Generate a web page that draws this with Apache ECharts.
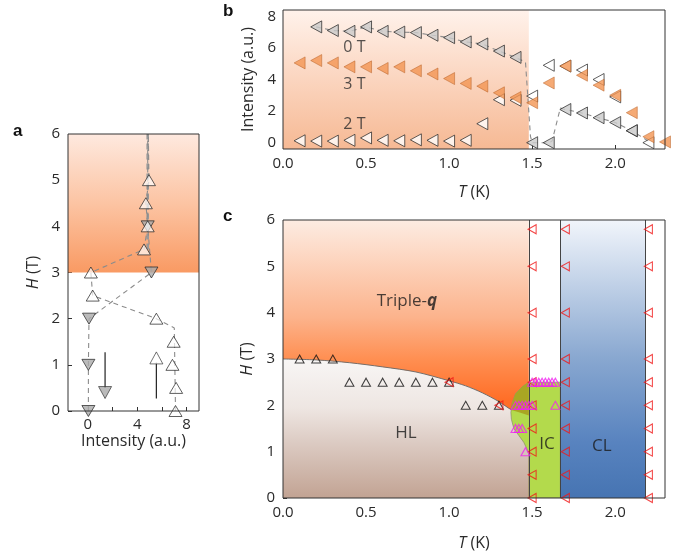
<!DOCTYPE html>
<html><head><meta charset="utf-8">
<script src="https://cdn.jsdelivr.net/npm/echarts@6/dist/echarts.min.js"></script>
<style>html,body{margin:0;padding:0;background:#fff}#c{width:682px;height:556px}</style>
</head><body><div id="c"></div>
<script>
// ================= DATA =================
// Panel a : H (T) vs Intensity (a.u.)
const aUpH = [0, 0.5, 1, 1.5, 2, 2.5, 3, 3.5, 4, 4.5, 5];
const aUpI = [7.1, 7.15, 6.85, 6.95, 5.55, 0.4, 0.25, 4.55, 4.85, 4.7, 4.95];
const aDownH = [0, 1, 2, 3, 4];
const aDownI = [0.05, 0.05, 0.1, 5.15, 4.85];
const aUpPathH = [0, 1.8, 2.0, 2.5, 3.0, 3.5, 4, 4.5, 5, 6];
const aUpPathI = [7.1, 7.0, 5.55, 0.4, 0.25, 4.55, 4.85, 4.7, 4.95, 4.9];
const aDownPathH = [0, 1, 2, 3, 4, 6];
const aDownPathI = [0.05, 0.05, 0.1, 5.15, 4.85, 4.85];
const aThickH = [3.5, 6];
const aThickI = [4.85, 4.85];
const aArrowDownH = [1.27, 0.5], aArrowDownI = [1.4, 1.4];
const aArrowUpH = [0.27, 1.05], aArrowUpI = [5.55, 5.55];
const aHeadDown = [1.4, 0.4], aHeadUp = [5.55, 1.15];
const aTicksX = [0, 4, 8], aMinorX = [0, 2, 4, 6, 8], aTicksY = [0, 1, 2, 3, 4, 5, 6];

// Panel b : Intensity vs T
const bT0 = [0.2, 0.3, 0.4, 0.5, 0.6, 0.7, 0.8, 0.9, 1.0, 1.1, 1.2, 1.3, 1.4, 1.5, 1.6, 1.7, 1.8, 1.9, 2.0, 2.1];
const bI0 = [7.33, 7.1, 7.05, 7.33, 7.05, 7.0, 6.97, 6.8, 6.65, 6.38, 6.25, 5.8, 5.4, 0, 0, 2.1, 1.88, 1.58, 1.28, 0.76];
const bT2 = [0.1, 0.2, 0.3, 0.4, 0.5, 0.6, 0.7, 0.8, 0.9, 1.0, 1.1, 1.2, 1.3, 1.4, 1.5, 1.6, 1.7, 1.8, 1.9, 2.0, 2.1, 2.2];
const bI2 = [0.12, 0.1, 0.1, 0.15, 0.3, 0.15, 0.12, 0.18, 0.15, 0.1, 0.15, 1.2, 2.72, 2.68, 2.95, 4.9, 4.85, 4.6, 4.0, 2.9, 0.75, 0];
const bT3 = [0.1, 0.2, 0.3, 0.4, 0.5, 0.6, 0.7, 0.8, 0.9, 1.0, 1.1, 1.2, 1.3, 1.4, 1.5, 1.6, 1.7, 1.8, 1.9, 2.0, 2.1, 2.2, 2.3];
const bI3 = [5.05, 5.2, 5.05, 4.8, 4.8, 4.7, 4.8, 4.55, 4.35, 4.06, 3.75, 3.58, 3.16, 2.86, 2.53, 3.78, 4.85, 4.27, 3.64, 3.0, 1.9, 0.38, 0.05];
const bGuideT = [0.2, 0.3, 0.4, 0.5, 0.6, 0.7, 0.8, 0.9, 1.0, 1.1, 1.2, 1.3, 1.4, 1.46, 1.49, 1.5, 1.6, 1.62, 1.67, 1.7, 1.8, 1.9, 2.0, 2.1, 2.2];
const bGuideI = [7.33, 7.1, 7.05, 7.33, 7.05, 7.0, 6.97, 6.8, 6.65, 6.38, 6.25, 5.8, 5.4, 5.1, 0.4, 0, 0, 0.1, 2.2, 2.1, 1.88, 1.58, 1.28, 0.76, 0.1];
const bLabels = [[0.43, 6.0, '0 T'], [0.43, 3.69, '3 T'], [0.43, 1.18, '2 T']];
const bTicksX = [0, 0.5, 1.0, 1.5, 2.0], bTicksY = [0, 2, 4, 6, 8];

// Panel c : phase diagram H vs T
const cHLT = [0.1, 0.2, 0.3, 0.4, 0.5, 0.6, 0.7, 0.8, 0.9, 1.0, 1.1, 1.2, 1.3];
const cHLH = [3, 3, 3, 2.5, 2.5, 2.5, 2.5, 2.5, 2.5, 2.5, 2.0, 2.0, 2.0];
const cRedColT = [1.5, 1.7, 2.2];
const cRedColH = [0, 0.5, 1, 1.5, 2, 2.5, 3, 4, 5, 5.8];
const cRedExtraT = [1.0, 1.3], cRedExtraH = [2.5, 2.0];
const cMagT = [1.50, 1.52, 1.54, 1.56, 1.58, 1.60, 1.62, 1.64, 1.40, 1.42, 1.44, 1.46, 1.48, 1.50, 1.64, 1.40, 1.42, 1.44, 1.46];
const cMagH = [2.5, 2.5, 2.5, 2.5, 2.5, 2.5, 2.5, 2.5, 2.0, 2.0, 2.0, 2.0, 2.0, 2.0, 2.0, 1.5, 1.5, 1.5, 1.0];
const cBoundT = [0, 0.2, 0.4, 0.6, 0.8, 1.0, 1.1, 1.2, 1.3, 1.377, 1.43, 1.48];
const cBoundH = [3.0, 2.98, 2.92, 2.83, 2.72, 2.53, 2.42, 2.27, 2.08, 1.9, 1.84, 1.78];
const cTripleT = [0, 1.48, 1.48, 0], cTripleH = [0, 0, 6, 6];
const cICT = [1.48, 1.44, 1.40, 1.38, 1.372, 1.375, 1.39, 1.42, 1.45, 1.47, 1.48, 1.48, 1.67, 1.67];
const cICH = [2.5, 2.40, 2.25, 2.05, 1.85, 1.7, 1.5, 1.35, 1.2, 1.05, 0.95, 0, 0, 2.5];
const cOliveT = [1.48, 1.44, 1.40, 1.38, 1.375, 1.43, 1.48];
const cOliveH = [2.5, 2.40, 2.25, 2.05, 1.9, 1.84, 1.78];
const cCLT = [1.67, 2.18, 2.18, 1.67], cCLH = [0, 0, 6, 6];
const cPhaseLines = [1.48, 1.67, 2.18];
const cLabels = [[0.746, 4.24, '{n|Triple-}{q|q}'], [0.74, 1.4, 'HL'], [1.59, 1.16, 'IC'], [1.92, 1.12, 'CL']];
const cTicksY = [0, 1, 2, 3, 4, 5, 6];

// ================= CHART =================
const FONT = "'Open Sans', 'Noto Sans', sans-serif";
const TXT = '#2a2a2a';
const TICKFS = 15, NAMEFS = 16;
const zip = (xs, ys) => xs.map((x, i) => [x, ys[i]]);
const grad = (stops) => new echarts.graphic.LinearGradient(0, 0, 0, 1, stops.map(s => ({offset: s[0], color: s[1]})));

function poly(gi, pts, fill, z, stroke) {
  return {
    type: 'custom', xAxisIndex: gi, yAxisIndex: gi, z: z, silent: true, clip: true,
    data: pts,
    renderItem: function (params, api) {
      if (params.dataIndex !== 0) return;
      const points = pts.map(p => api.coord(p));
      return {type: 'polygon', shape: {points: points},
        style: {fill: fill, stroke: stroke || null, lineWidth: stroke ? 0.7 : 0}};
    }
  };
}
function scat(gi, data, opt) {
  return Object.assign({type: 'scatter', xAxisIndex: gi, yAxisIndex: gi, data: data, silent: true, z: 6}, opt);
}
function line(gi, data, opt) {
  return Object.assign({type: 'line', xAxisIndex: gi, yAxisIndex: gi, data: data, symbol: 'none', silent: true, z: 4}, opt);
}
const tick = (vals) => ({show: true, inside: true, length: 4, customValues: vals, lineStyle: {color: '#333', width: 1}});
const lab = (vals, fmt, margin) => ({customValues: vals, color: TXT, fontSize: TICKFS, fontFamily: FONT, margin: margin, formatter: fmt});
const nameStyle = {fontSize: NAMEFS, color: TXT, fontFamily: FONT, rich: {i: {fontStyle: 'italic', fontSize: NAMEFS, color: TXT, fontFamily: FONT}}};
const gridBase = {show: true, borderColor: '#333', borderWidth: 1, backgroundColor: 'transparent', z: 20};
const f1 = v => v.toFixed(1);

const chart = echarts.init(document.getElementById('c'), null, {renderer: 'canvas'});
const option = {
  animation: false,
  textStyle: {fontFamily: FONT},
  grid: [
    Object.assign({left: 68, top: 134, width: 131, height: 277}, gridBase),
    Object.assign({left: 283, top: 10, width: 382, height: 139}, gridBase),
    Object.assign({left: 283, top: 220, width: 382, height: 278}, gridBase)
  ],
  xAxis: [
    {gridIndex: 0, type: 'value', min: -1.6, max: 9, axisLine: {show: false, onZero: false}, splitLine: {show: false},
     axisTick: tick(aMinorX), axisLabel: lab(aTicksX, null, 6),
     name: 'Intensity (a.u.)', nameLocation: 'middle', nameGap: 22, nameTextStyle: nameStyle},
    {gridIndex: 1, type: 'value', min: 0, max: 2.3, axisLine: {show: false, onZero: false}, splitLine: {show: false},
     axisTick: tick(bTicksX), axisLabel: lab(bTicksX, f1, 7),
     name: '{i|T} (K)', nameLocation: 'middle', nameGap: 35, nameTextStyle: nameStyle},
    {gridIndex: 2, type: 'value', min: 0, max: 2.3, axisLine: {show: false, onZero: false}, splitLine: {show: false},
     axisTick: tick(bTicksX), axisLabel: lab(bTicksX, f1, 7),
     name: '{i|T} (K)', nameLocation: 'middle', nameGap: 37, nameTextStyle: nameStyle}
  ],
  yAxis: [
    {gridIndex: 0, type: 'value', min: 0, max: 6, axisLine: {show: false, onZero: false}, splitLine: {show: false},
     axisTick: tick(aTicksY), axisLabel: lab(aTicksY, null, 8),
     name: '{i|H} (T)', nameLocation: 'middle', nameGap: 27, nameTextStyle: nameStyle},
    {gridIndex: 1, type: 'value', min: -0.4, max: 8.4, axisLine: {show: false, onZero: false}, splitLine: {show: false},
     axisTick: tick(bTicksY), axisLabel: lab(bTicksY, null, 7),
     name: 'Intensity (a.u.)', nameLocation: 'middle', nameGap: 25, nameTextStyle: nameStyle},
    {gridIndex: 2, type: 'value', min: 0, max: 6, axisLine: {show: false, onZero: false}, splitLine: {show: false},
     axisTick: tick(cTicksY), axisLabel: lab(cTicksY, null, 8),
     name: '{i|H} (T)', nameLocation: 'middle', nameGap: 27, nameTextStyle: nameStyle}
  ],
  graphic: [
    {type: 'text', left: 13, top: 123, style: {text: 'a', font: 'bold 17px "Liberation Sans", Arial, sans-serif', fill: '#111'}},
    {type: 'text', left: 223, top: 3, style: {text: 'b', font: 'bold 17px "Liberation Sans", Arial, sans-serif', fill: '#111'}},
    {type: 'text', left: 223, top: 208, style: {text: 'c', font: 'bold 17px "Liberation Sans", Arial, sans-serif', fill: '#111'}}
  ],
  series: [
    // ---------- Panel a ----------
    poly(0, [[-1.6, 3], [9, 3], [9, 6], [-1.6, 6]], grad([[0, '#fee9df'], [0.5, '#fcc4a3'], [1, '#f99a63']]), 1),
    line(0, zip(aThickI, aThickH), {lineStyle: {color: '#9a9a9a', width: 2.6, type: [6, 4]}}),
    line(0, zip(aUpPathI, aUpPathH), {lineStyle: {color: '#8c8c8c', width: 1.1, type: [5, 4]}}),
    line(0, zip(aDownPathI, aDownPathH), {lineStyle: {color: '#8c8c8c', width: 1.1, type: [5, 4]}}),
    line(0, zip(aArrowDownI, aArrowDownH), {lineStyle: {color: '#222', width: 1.2}}),
    line(0, zip(aArrowUpI, aArrowUpH), {lineStyle: {color: '#222', width: 1.2}}),
    scat(0, [aHeadDown], {symbol: 'triangle', symbolSize: [13, 12], symbolRotate: 180, itemStyle: {color: '#aaaaaa', borderColor: '#222', borderWidth: 0.8}}),
    scat(0, [aHeadUp], {symbol: 'triangle', symbolSize: [13, 12], itemStyle: {color: '#fff', borderColor: '#222', borderWidth: 0.8}}),
    scat(0, zip(aDownI, aDownH), {symbol: 'triangle', symbolSize: [13, 11], symbolRotate: 180, itemStyle: {color: '#aaaaaa', borderColor: '#222', borderWidth: 0.9}}),
    scat(0, zip(aUpI, aUpH), {symbol: 'triangle', symbolSize: [13, 11], itemStyle: {color: 'rgba(255,255,255,0.85)', borderColor: '#222', borderWidth: 0.9}, z: 7}),

    // ---------- Panel b ----------
    poly(1, [[0, -0.4], [1.48, -0.4], [1.48, 8.4], [0, 8.4]], grad([[0, '#fff2eb'], [0.5, '#fbd5bf'], [1, '#f6b994']]), 1),
    line(1, zip(bGuideT, bGuideI), {lineStyle: {color: '#8c8c8c', width: 1.1, type: [5, 4]}}),
    scat(1, zip(bT2, bI2), {symbol: 'triangle', symbolSize: [12, 11], symbolRotate: 90, itemStyle: {color: '#fff', borderColor: '#222', borderWidth: 0.9}}),
    scat(1, zip(bT3, bI3), {symbol: 'triangle', symbolSize: [12, 11], symbolRotate: 90, itemStyle: {color: '#f29552', borderColor: '#b35a20', borderWidth: 0.6}, z: 7}),
    scat(1, zip(bT0, bI0), {symbol: 'triangle', symbolSize: [12, 11], symbolRotate: 90, itemStyle: {color: '#cbcbcb', borderColor: '#222', borderWidth: 0.9}, z: 8}),
    scat(1, bLabels, {symbolSize: 1, itemStyle: {color: 'transparent'}, z: 9,
      label: {show: true, position: 'inside', formatter: p => p.data[2], fontSize: 16, color: TXT, fontFamily: FONT}}),

    // ---------- Panel c ----------
    poly(2, zip(cTripleT, cTripleH), grad([[0, '#fdece2'], [0.35, '#fcb38c'], [0.5, '#ff8f52'], [0.65, '#ff6e27'], [1, '#ff6a20']]), 1),
    poly(2, zip(cCLT, cCLH), grad([[0, '#f1f5fb'], [0.5, '#88a7d0'], [0.8, '#5883bf'], [1, '#4674b2']]), 1),
    line(2, zip(cBoundT, cBoundH), {smooth: 0.3, z: 2, lineStyle: {color: '#666', width: 0.9},
      areaStyle: {opacity: 1, color: grad([[0, '#f8f6f5'], [0.35, '#eee6e2'], [0.6, '#dccbc3'], [1, '#c2a393']])}}),
    poly(2, zip(cICT, cICH), '#b3da4c', 3, '#8a8a6a'),
    poly(2, zip(cOliveT, cOliveH), '#a9a623', 3.5),
    line(2, [[0, 0], [0, 0]], {z: 5, lineStyle: {width: 0},
      markLine: {silent: true, symbol: 'none', label: {show: false}, lineStyle: {color: '#444', width: 1, type: 'solid'},
        data: cPhaseLines.map(v => ({xAxis: v}))}}),
    scat(2, zip(cHLT, cHLH), {symbol: 'triangle', symbolSize: [9, 8], itemStyle: {color: 'transparent', borderColor: '#111', borderWidth: 1}}),
    scat(2, cRedColT.flatMap(t => cRedColH.map(h => [t, h])).concat(zip(cRedExtraT, cRedExtraH)),
      {symbol: 'triangle', symbolSize: [9, 8], symbolRotate: 90, itemStyle: {color: 'transparent', borderColor: '#f01818', borderWidth: 1.1}, z: 7}),
    scat(2, zip(cMagT, cMagH), {symbol: 'triangle', symbolSize: [9, 8], itemStyle: {color: 'transparent', borderColor: '#f020f0', borderWidth: 1.1}, z: 8}),
    scat(2, cLabels, {symbolSize: 1, itemStyle: {color: 'transparent'}, z: 9,
      label: {show: true, position: 'inside', formatter: p => p.data[2], fontSize: 17, color: '#1a1a1a', fontFamily: FONT,
        rich: {n: {fontSize: 17, color: '#1a1a1a', fontFamily: FONT}, q: {fontSize: 17, color: '#1a1a1a', fontFamily: FONT, fontStyle: 'italic', fontWeight: 'bold'}}}})
  ]
};
chart.setOption(option);
</script></body></html>
